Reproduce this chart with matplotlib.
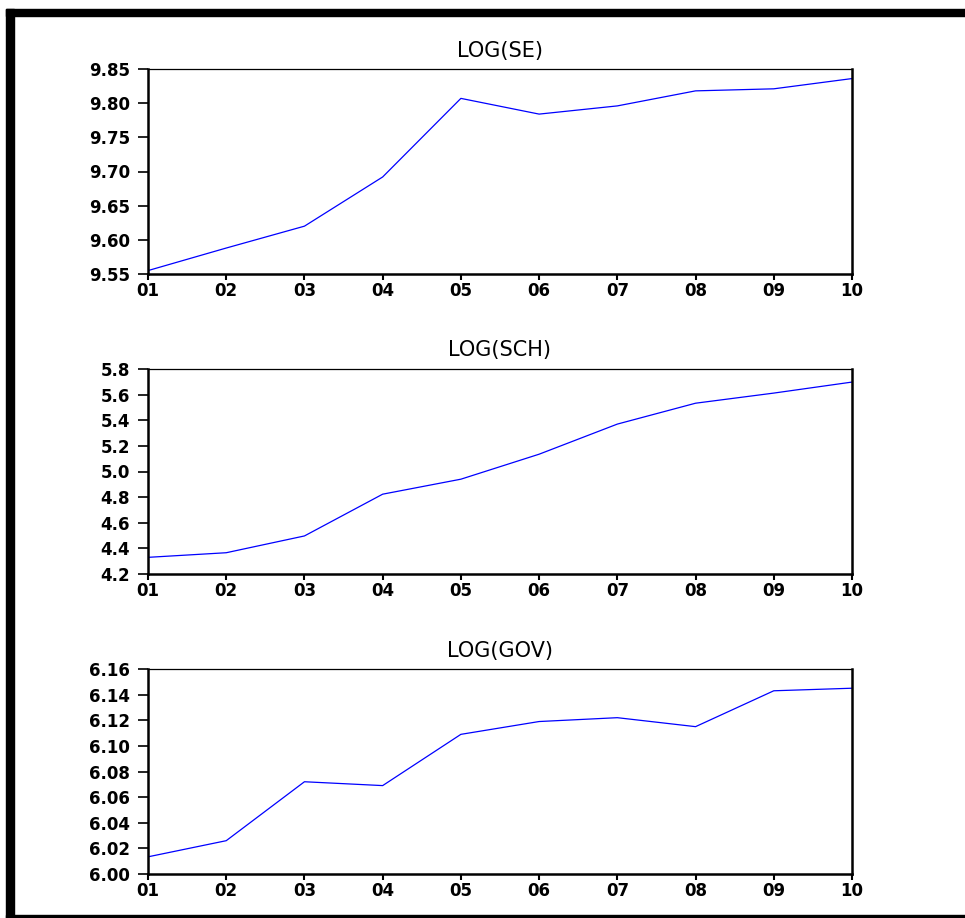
import matplotlib.pyplot as plt
from matplotlib.patches import Rectangle

years = ["01", "02", "03", "04", "05", "06", "07", "08", "09", "10"]

log_se = [9.555, 9.588, 9.620, 9.692, 9.807, 9.784, 9.796, 9.818, 9.821, 9.836]
log_sch = [4.33, 4.366, 4.497, 4.823, 4.94, 5.135, 5.37, 5.533, 5.612, 5.698]
log_gov = [6.0134, 6.026, 6.072, 6.069, 6.109, 6.119, 6.122, 6.115, 6.143, 6.145]

panels = [
    ("LOG(SE)", log_se, (9.55, 9.85), [9.55, 9.60, 9.65, 9.70, 9.75, 9.80, 9.85], "%.2f"),
    ("LOG(SCH)", log_sch, (4.2, 5.8), [4.2, 4.4, 4.6, 4.8, 5.0, 5.2, 5.4, 5.6, 5.8], "%.1f"),
    ("LOG(GOV)", log_gov, (6.00, 6.16), [6.00, 6.02, 6.04, 6.06, 6.08, 6.10, 6.12, 6.14, 6.16], "%.2f"),
]

fig = plt.figure(figsize=(9.65, 9.18), dpi=100)

# frame around the picture
fig.patches.append(Rectangle((6 / 965, 1 - 16 / 918), 1, 7 / 918, transform=fig.transFigure,
                             color="black", zorder=0))
fig.patches.append(Rectangle((6 / 965, 0), 8 / 965, 1 - 9 / 918, transform=fig.transFigure,
                             color="black", zorder=0))
fig.patches.append(Rectangle((6 / 965, 0), 1, 3 / 918, transform=fig.transFigure,
                             color="black", zorder=0))

left = 148 / 965
width = 704 / 965
bottoms = [1 - 274 / 918, 1 - 574 / 918, 1 - 874 / 918]
height = 205 / 918

for (title, vals, ylim, yticks, fmt), b in zip(panels, bottoms):
    ax = fig.add_axes([left, b, width, height])
    x = list(range(len(years)))
    ax.plot(x, vals, color="#0000ff", linewidth=0.9)
    ax.set_xlim(0, len(years) - 1)
    ax.set_ylim(*ylim)
    ax.set_xticks(x)
    ax.set_xticklabels(years)
    ax.set_yticks(yticks)
    ax.set_yticklabels([fmt % v for v in yticks])
    ax.set_title(title, fontsize=15, family="DejaVu Sans", pad=9)
    for lab in ax.get_xticklabels() + ax.get_yticklabels():
        lab.set_fontweight("bold")
        lab.set_fontsize(12)
    ax.tick_params(axis="y", direction="out", length=7, width=1.2, pad=6)
    ax.tick_params(axis="x", direction="out", length=4.5, width=1.5, pad=1.5)
    ax.spines["top"].set_linewidth(0.9)
    for s in ["left", "bottom", "right"]:
        ax.spines[s].set_linewidth(1.8)

fig.savefig("out.png", dpi=100)
